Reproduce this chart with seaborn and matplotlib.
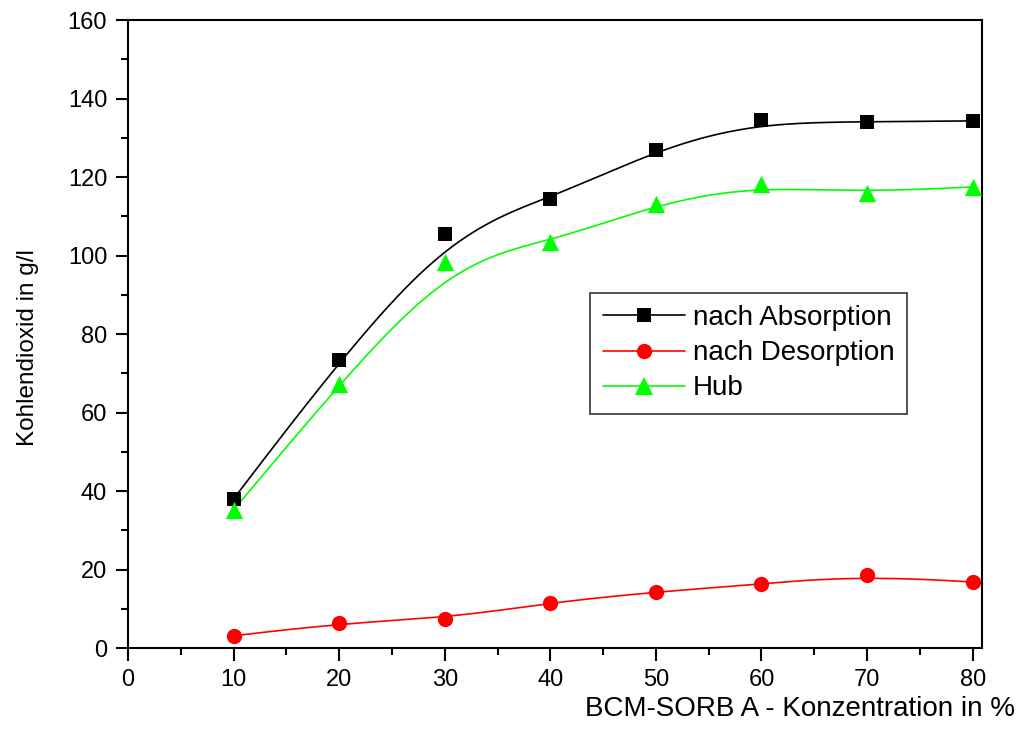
import numpy as np
import pandas as pd
import matplotlib
matplotlib.use("Agg")
import matplotlib.pyplot as plt
from matplotlib.lines import Line2D
from matplotlib.ticker import MultipleLocator
import seaborn as sns

konz = [10, 20, 30, 40, 50, 60, 70, 80]
absorption = [38.0, 73.4, 105.5, 114.5, 126.9, 134.5, 134.0, 134.3]
desorption = [3.1, 6.4, 7.4, 11.6, 14.3, 16.3, 18.6, 16.8]
hub = [35.2, 67.3, 98.3, 103.4, 113.1, 118.2, 115.9, 117.5]


def bspline(x, y, n=400, k=3):
    # clamped cubic B-spline with the data points as control points
    # (the way the original software draws the connecting curve)
    P = np.column_stack([x, y]).astype(float)
    m = len(P)
    knots = np.concatenate([np.zeros(k), np.arange(m - k + 1), np.full(k, m - k)]).astype(float)
    t = np.linspace(0, m - k, n)
    t[-1] -= 1e-9
    B = np.zeros((n, len(knots) - 1))
    for i in range(len(knots) - 1):
        B[:, i] = (knots[i] <= t) & (t < knots[i + 1])
    for d in range(1, k + 1):
        Bn = np.zeros((n, len(knots) - d - 1))
        for i in range(len(knots) - d - 1):
            a = knots[i + d] - knots[i]
            b = knots[i + d + 1] - knots[i + 1]
            left = (t - knots[i]) / a * B[:, i] if a > 0 else 0
            right = (knots[i + d + 1] - t) / b * B[:, i + 1] if b > 0 else 0
            Bn[:, i] = left + right
        B = Bn
    C = B @ P
    return C[:, 0], C[:, 1]


sns.set_style("ticks", {"text.color": "black", "axes.labelcolor": "black",
                        "xtick.color": "black", "ytick.color": "black",
                        "axes.edgecolor": "black"})
plt.rcParams['font.family'] = ['Liberation Sans', 'DejaVu Sans']

fig = plt.figure(figsize=(10.25, 7.31), dpi=100)
ax = fig.add_axes([0.1249, 0.1135, 0.8333, 0.8591])

series = [
    ("nach Absorption", absorption, "black", "s", 10),
    ("nach Desorption", desorption, "#ff0000", "o", 11),
    ("Hub", hub, "#00ff00", "^", 12.5),
]

handles = []
for name, vals, col, mk, ms in series:
    xs, ys = bspline(konz, vals)
    sns.lineplot(x=xs, y=ys, ax=ax, color=col, lw=1.2, legend=False, sort=False)
    df = pd.DataFrame({"x": konz, "y": vals})
    sns.scatterplot(data=df, x="x", y="y", ax=ax, color=col, marker=mk,
                    s=ms ** 2, edgecolor=col, linewidth=0, legend=False, zorder=3)
    handles.append(Line2D([], [], color=col, lw=1.2, marker=mk, markersize=ms,
                          markeredgewidth=0, label=name))

ax.set_xlim(0, 80.9)
ax.set_ylim(0, 160)
ax.xaxis.set_major_locator(MultipleLocator(10))
ax.xaxis.set_minor_locator(MultipleLocator(5))
ax.yaxis.set_major_locator(MultipleLocator(20))
ax.yaxis.set_minor_locator(MultipleLocator(10))
ax.tick_params(which="major", direction="out", length=9, width=1.5, labelsize=17,
               colors="black", pad=6)
ax.tick_params(which="minor", direction="out", length=5, width=1.5)
for s in ax.spines.values():
    s.set_linewidth(1.5)
    s.set_color("black")

ax.set_xlabel("BCM-SORB A - Konzentration in %", fontsize=20, color="black")
ax.xaxis.label.set_horizontalalignment("right")
ax.xaxis.set_label_coords(1.039, -0.076)
ax.set_ylabel("Kohlendioxid in g/l", fontsize=17.5, color="black")
ax.yaxis.set_label_coords(-0.104, 0.478)

leg = ax.legend(handles=handles, loc="upper left", bbox_to_anchor=(0.541, 0.566),
                fontsize=20, frameon=True, fancybox=False, edgecolor="black",
                handlelength=2.95, handletextpad=0.3, borderpad=0.45,
                labelspacing=0.33, borderaxespad=0, labelcolor="black")
leg.get_frame().set_linewidth(1.2)

fig.savefig("out.png", dpi=100)
